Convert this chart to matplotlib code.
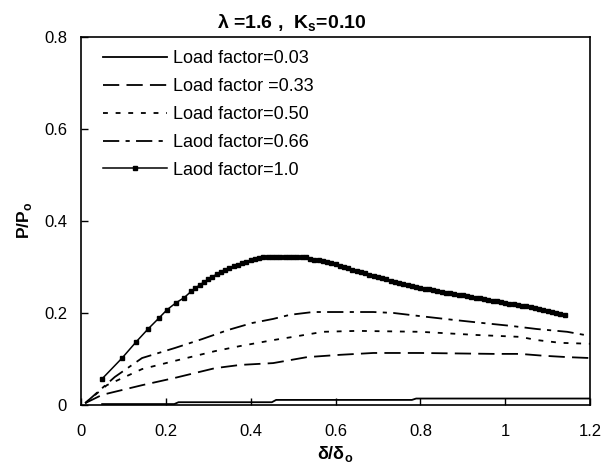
import matplotlib
matplotlib.use("Agg")
import matplotlib.pyplot as plt

plt.rcParams['font.family'] = ['Liberation Sans', 'DejaVu Sans']
plt.rcParams['mathtext.fontset'] = 'custom'
plt.rcParams['mathtext.rm'] = 'Liberation Sans'
plt.rcParams['mathtext.bf'] = 'Liberation Sans:bold'

title = r"$\mathbf{\lambda}$ =1.6 ,  K$_\mathregular{s}$=0.10"
xlabel = r"δ/δ$_\mathregular{o}$"
ylabel = r"P/P$_\mathregular{o}$"
xticks = [0, 0.2, 0.4, 0.6, 0.8, 1.0, 1.2]
xticklabels = ["0", "0.2", "0.4", "0.6", "0.8", "1", "1.2"]
yticks = [0, 0.2, 0.4, 0.6, 0.8]
yticklabels = ["0", "0.2", "0.4", "0.6", "0.8"]

labels = ["Load factor=0.03", "Load factor =0.33", "Load factor=0.50",
          "Laod factor=0.66", "Laod factor=1.0"]

x_003 = [0.05, 0.22, 0.23, 0.45, 0.46, 0.78, 0.79, 1.2]
y_003 = [0.002, 0.002, 0.006, 0.006, 0.011, 0.011, 0.014, 0.014]

x_033 = [0.01, 0.05, 0.144, 0.222, 0.316, 0.375, 0.453, 0.533, 0.611, 0.689, 0.8, 0.972, 1.035, 1.09, 1.146, 1.2]
y_033 = [0.004, 0.022, 0.043, 0.059, 0.080, 0.087, 0.091, 0.104, 0.109, 0.113, 0.113, 0.111, 0.111, 0.107, 0.104, 0.102]

x_050 = [0.01, 0.061, 0.144, 0.222, 0.316, 0.375, 0.453, 0.5, 0.571, 0.651, 0.8, 0.934, 1.035, 1.075, 1.13, 1.2]
y_050 = [0.004, 0.043, 0.078, 0.096, 0.117, 0.128, 0.141, 0.148, 0.159, 0.161, 0.159, 0.152, 0.148, 0.141, 0.135, 0.133]

x_066 = [0.01, 0.08, 0.144, 0.222, 0.285, 0.347, 0.403, 0.453, 0.493, 0.547, 0.689, 0.736, 0.8, 0.877, 0.948, 1.012, 1.075, 1.146, 1.2]
y_066 = [0.004, 0.061, 0.102, 0.124, 0.143, 0.163, 0.178, 0.187, 0.196, 0.202, 0.202, 0.200, 0.193, 0.185, 0.178, 0.172, 0.165, 0.159, 0.150]

x_100 = [0.05, 0.097, 0.13, 0.158, 0.184, 0.203, 0.224, 0.243,
         0.26, 0.27, 0.28, 0.29, 0.30, 0.31, 0.32, 0.33, 0.34, 0.35, 0.36, 0.37,
         0.38, 0.39, 0.40, 0.41, 0.42, 0.43, 0.44, 0.45, 0.46, 0.47, 0.48, 0.49,
         0.50, 0.51, 0.52, 0.53, 0.54, 0.55, 0.56, 0.57, 0.58, 0.59, 0.60, 0.61,
         0.62, 0.63, 0.64, 0.65, 0.66, 0.67, 0.68, 0.69, 0.70, 0.71, 0.72, 0.73,
         0.74, 0.75, 0.76, 0.77, 0.78, 0.79, 0.80, 0.81, 0.82, 0.83, 0.84, 0.85,
         0.86, 0.87, 0.88, 0.89, 0.90, 0.91, 0.92, 0.93, 0.94, 0.95, 0.96, 0.97,
         0.98, 0.99, 1.00, 1.01, 1.02, 1.03, 1.04, 1.05, 1.06, 1.07, 1.08, 1.09,
         1.10, 1.11, 1.12, 1.13, 1.14]
y_100 = [0.057, 0.102, 0.137, 0.165, 0.189, 0.207, 0.222, 0.233,
         0.247, 0.254, 0.261, 0.267, 0.273, 0.279, 0.284, 0.289, 0.294, 0.298, 0.302, 0.305,
         0.308, 0.311, 0.314, 0.317, 0.319, 0.321, 0.322, 0.322, 0.322, 0.322, 0.322, 0.322,
         0.322, 0.322, 0.322, 0.321, 0.318, 0.316, 0.315, 0.313, 0.311, 0.308, 0.306, 0.303,
         0.300, 0.297, 0.294, 0.291, 0.289, 0.286, 0.283, 0.281, 0.278, 0.276, 0.273, 0.270,
         0.268, 0.265, 0.263, 0.261, 0.259, 0.257, 0.255, 0.253, 0.251, 0.249, 0.248, 0.246,
         0.244, 0.243, 0.241, 0.240, 0.238, 0.236, 0.235, 0.233, 0.232, 0.230, 0.229, 0.227,
         0.225, 0.224, 0.222, 0.220, 0.219, 0.217, 0.215, 0.214, 0.212, 0.210, 0.208, 0.206,
         0.204, 0.202, 0.200, 0.198, 0.196]

fig = plt.figure(figsize=(6.04, 4.72), dpi=100)
ax = fig.add_axes([0.134, 0.142, 0.843, 0.780])

lw = 1.3
ax.plot(x_003, y_003, color='black', lw=lw, label=labels[0])
ax.plot(x_033, y_033, color='black', lw=lw, dashes=(9, 4), label=labels[1])
ax.plot(x_050, y_050, color='black', lw=lw, dashes=(2.7, 4.3), label=labels[2])
ax.plot(x_066, y_066, color='black', lw=lw, dashes=(9, 3.5, 2.3, 3.5), label=labels[3])
ax.plot(x_100, y_100, color='black', lw=1.1, marker='s', ms=2.4, label=labels[4])

ax.set_xlim(0, 1.2)
ax.set_ylim(0, 0.8)
ax.set_xticks(xticks)
ax.set_xticklabels(xticklabels)
ax.set_yticks(yticks)
ax.set_yticklabels(yticklabels)
ax.tick_params(direction='in', length=5, width=1, labelsize=12)
ax.tick_params(axis='x', pad=14)
ax.tick_params(axis='y', pad=10)
for s in ax.spines.values():
    s.set_linewidth(1.2)

fig.text(217 / 604, 1 - 23 / 472, title, fontsize=14, fontweight='bold',
         ha='left', va='center')
ax.set_xlabel(xlabel, fontsize=13, fontweight='bold', labelpad=3)
ax.set_ylabel(ylabel, fontsize=12.5, fontweight='bold', labelpad=7)

leg = ax.legend(loc='upper left', bbox_to_anchor=(22 / 509, 0.963), frameon=False,
                fontsize=13, handlelength=3.55, handletextpad=0.33,
                labelspacing=0.6, borderaxespad=0, borderpad=0)

fig.savefig("out.png", dpi=100)
